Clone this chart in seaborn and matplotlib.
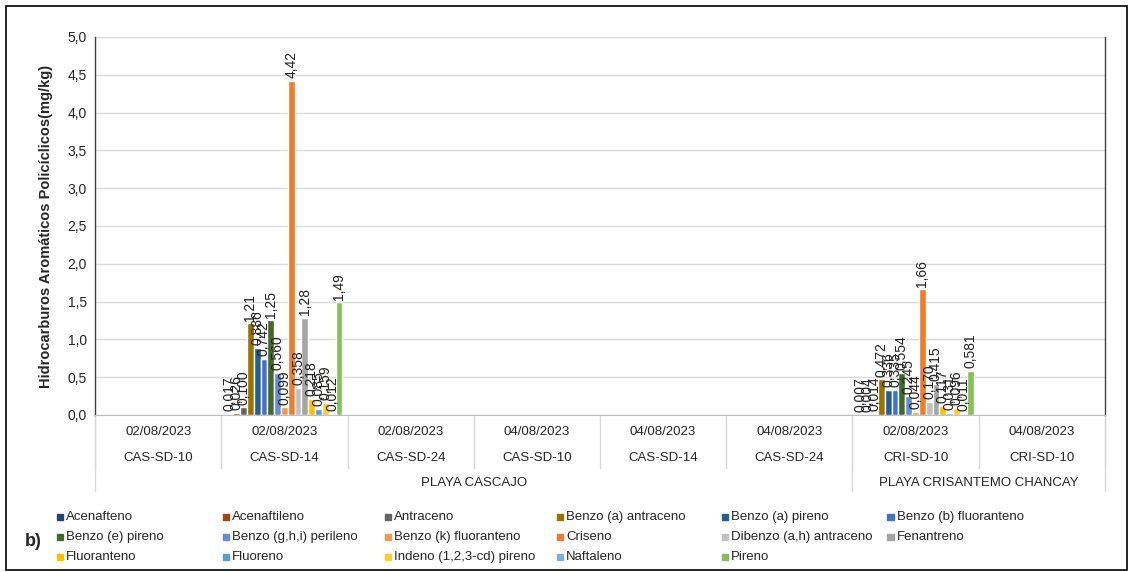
import pandas as pd
import matplotlib.pyplot as plt
import matplotlib.patches as mpatches
import seaborn as sns

# Categories (date / station / beach)
dates = ["02/08/2023", "02/08/2023", "02/08/2023", "04/08/2023",
         "04/08/2023", "04/08/2023", "02/08/2023", "04/08/2023"]
stations = ["CAS-SD-10", "CAS-SD-14", "CAS-SD-24", "CAS-SD-10",
            "CAS-SD-14", "CAS-SD-24", "CRI-SD-10", "CRI-SD-10"]
playas = ["PLAYA CASCAJO", "PLAYA CRISANTEMO CHANCAY"]
playa_span = [6, 2]

compounds = ["Acenafteno", "Acenaftileno", "Antraceno", "Benzo (a) antraceno",
             "Benzo (a) pireno", "Benzo (b) fluoranteno", "Benzo (e) pireno",
             "Benzo (g,h,i) perileno", "Benzo (k) fluoranteno", "Criseno",
             "Dibenzo (a,h) antraceno", "Fenantreno", "Fluoranteno", "Fluoreno",
             "Indeno (1,2,3-cd) pireno", "Naftaleno", "Pireno"]
colors = ["#264478", "#9E480E", "#636363", "#997300", "#255E91", "#4472C4",
          "#43682B", "#698ED0", "#F1975A", "#ED7D31", "#C0C0C0", "#A5A5A5",
          "#FFC000", "#5B9BD5", "#FFCD33", "#7CAFDD", "#84C15A"]

# Only two samples have reported values
cas_sd14_0208 = [0.017, 0.026, 0.100, 1.21, 0.886, 0.742, 1.25, 0.560, 0.099,
                 4.42, 0.358, 1.28, 0.218, 0.085, 0.159, 0.012, 1.49]
cri_sd10_0208 = [0.007, 0.004, 0.014, 0.472, 0.336, 0.335, 0.554, 0.245, 0.044,
                 1.66, 0.170, 0.415, 0.117, 0.031, 0.096, 0.011, 0.581]

cat_keys = [f"{d}\n{s}\n{i}" for i, (d, s) in enumerate(zip(dates, stations))]

rows = []
for comp, v1, v2 in zip(compounds, cas_sd14_0208, cri_sd10_0208):
    rows.append({"cat": cat_keys[1], "compuesto": comp, "valor": v1})
    rows.append({"cat": cat_keys[6], "compuesto": comp, "valor": v2})
df = pd.DataFrame(rows)

sns.set_style("white")
plt.rcParams["font.family"] = ["Liberation Sans", "DejaVu Sans"]

fig = plt.figure(figsize=(11.32, 5.72), dpi=100)
ax = fig.add_axes([0.084, 0.2745, 0.892, 0.661])

sns.barplot(data=df, x="cat", y="valor", hue="compuesto", order=cat_keys,
            hue_order=compounds, palette=colors, width=0.92, ax=ax,
            legend=False, saturation=1)


def fmt(v):
    s = f"{v:.2f}" if v >= 1 else f"{v:.3f}"
    return s.replace(".", ",")


for cont in ax.containers:
    ax.bar_label(cont, labels=[fmt(v) for v in cont.datavalues], rotation=90,
                 padding=2, fontsize=10, color="#222222")

ax.set_ylim(0, 5)
ax.set_xlim(-0.5, len(cat_keys) - 0.5)
yt = [i * 0.5 for i in range(11)]
ax.set_yticks(yt)
ax.set_yticklabels([f"{t:.1f}".replace(".", ",") for t in yt], fontsize=10)
ax.yaxis.grid(True, color="#D9D9D9", linewidth=1)
ax.set_axisbelow(True)
ax.set_xticks([])
ax.set_xlabel("")
ax.set_ylabel("Hidrocarburos Aromáticos Policíclicos(mg/kg)", fontsize=10.5,
              fontweight="bold", labelpad=10)
ax.tick_params(axis="y", length=0, pad=6)
for side in ["top"]:
    ax.spines[side].set_visible(False)
for side in ["left", "right"]:
    ax.spines[side].set_color("#404040")
    ax.spines[side].set_linewidth(1)
ax.spines["bottom"].set_color("#BFBFBF")

# Multi-level category axis
trans = ax.get_xaxis_transform()
for i, (d, s) in enumerate(zip(dates, stations)):
    ax.text(i, -0.045, d, transform=trans, ha="center", va="center", fontsize=9.5)
    ax.text(i, -0.115, s, transform=trans, ha="center", va="center", fontsize=9.5)
line_kw = dict(transform=trans, color="#D9D9D9", linewidth=1, clip_on=False)
for i in range(len(cat_keys) + 1):
    ax.plot([i - 0.5, i - 0.5], [0, -0.14], **line_kw)
start = 0
for p, n in zip(playas, playa_span):
    ax.text(start + n / 2 - 0.5, -0.18, p, transform=trans, ha="center",
            va="center", fontsize=9.5)
    ax.plot([start - 0.5, start - 0.5], [0, -0.2], **line_kw)
    start += n
ax.plot([start - 0.5, start - 0.5], [0, -0.2], **line_kw)

# Legend, 6 equal columns
col_x = [0.050, 0.197, 0.340, 0.492, 0.638, 0.784]
row_y = [0.097, 0.062, 0.027]
for k, (comp, c) in enumerate(zip(compounds, colors)):
    x = col_x[k % 6]
    y = row_y[k // 6]
    fig.patches.append(mpatches.Rectangle((x, y - 0.006), 0.0055, 0.011,
                                          color=c, transform=fig.transFigure))
    fig.text(x + 0.008, y, comp, fontsize=9.5, va="center")

fig.text(0.022, 0.054, "b)", fontsize=13, fontweight="bold", va="center")
fig.patches.append(mpatches.Rectangle((0.005, 0.004), 0.991, 0.986, fill=False,
                                      edgecolor="black", linewidth=1.2,
                                      transform=fig.transFigure))

fig.savefig("out.png", dpi=100)
